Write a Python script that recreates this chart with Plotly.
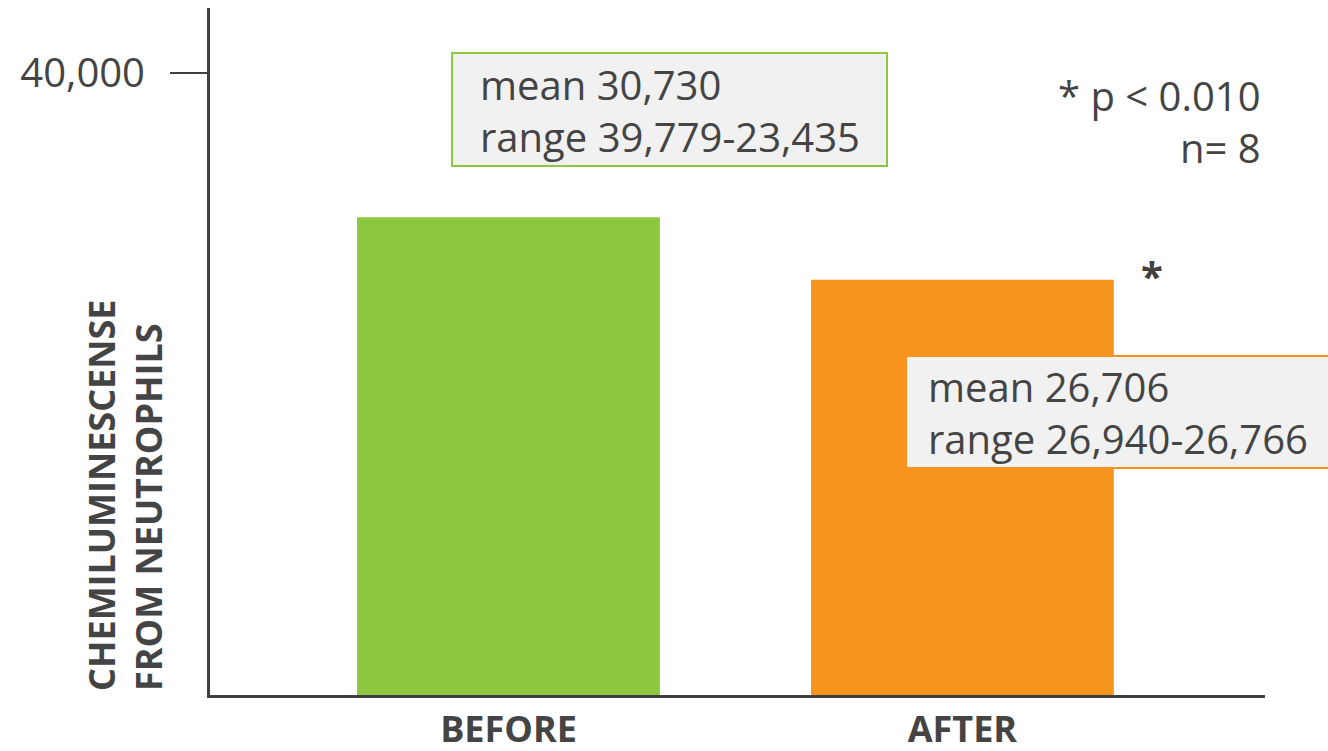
import plotly.graph_objects as go

# Neutrophil chemiluminescence before / after treatment
groups = ["BEFORE", "AFTER"]
means = [30730, 26706]
range_high = [39779, 26940]
range_low = [23435, 26766]
bar_colors = ["#8dc63f", "#f7941d"]
y_tick_values = [40000]
p_value = 0.010
n_subjects = 8

W, H = 1328, 751
MARGIN = dict(l=210, r=63, t=8, b=56)
TEXT = "#444444"
AXIS = "#404040"
FONT = "Open Sans"


def paper_x(px):
    return (px - MARGIN["l"]) / (W - MARGIN["l"] - MARGIN["r"])


def paper_y(py):
    return (H - MARGIN["b"] - py) / (H - MARGIN["t"] - MARGIN["b"])


fig = go.Figure(
    go.Bar(
        x=groups,
        y=means,
        width=0.667,
        marker=dict(color=bar_colors, line=dict(width=0)),
        hoverinfo="skip",
    )
)

fig.update_layout(
    width=W,
    height=H,
    margin=MARGIN,
    paper_bgcolor="white",
    plot_bgcolor="white",
    showlegend=False,
    font=dict(family=FONT, color=TEXT),
)

fig.update_xaxes(
    type="category",
    range=[-0.6575, 1.6665],
    automargin=False,
    showline=True,
    linecolor=AXIS,
    linewidth=3,
    showgrid=False,
    zeroline=False,
    ticks="",
    tickfont=dict(family=FONT, size=36, color=TEXT, weight="bold"),
    ticklabelstandoff=1,
)

fig.update_yaxes(
    range=[0, 44180],
    automargin=False,
    showline=True,
    linecolor=AXIS,
    linewidth=3,
    showgrid=False,
    zeroline=False,
    tickvals=y_tick_values,
    ticktext=[f"{v:,}" for v in y_tick_values],
    ticks="outside",
    ticklen=37,
    tickwidth=2,
    tickcolor=AXIS,
    tickfont=dict(family=FONT, size=40, color=TEXT),
    ticklabelstandoff=17,
)

# Callout boxes holding the group statistics
boxes = [
    dict(x0=452, x1=887, y0=166, y1=53, color=bar_colors[0], text_x=478),
    dict(x0=906, x1=1345, y0=468, y1=356, color=bar_colors[1], text_x=926),
]
shapes = []
annotations = []
for i, b in enumerate(boxes):
    shapes.append(
        dict(
            type="rect",
            xref="paper",
            yref="paper",
            x0=paper_x(b["x0"]),
            x1=paper_x(b["x1"]),
            y0=paper_y(b["y0"]),
            y1=paper_y(b["y1"]),
            fillcolor="#f1f1f1",
            line=dict(color=b["color"], width=2),
            layer="above",
        )
    )
    annotations.append(
        dict(
            text=f"mean {means[i]:,}<br>range {range_high[i]:,}-{range_low[i]:,}",
            xref="paper",
            yref="paper",
            x=paper_x(b["text_x"]),
            y=paper_y((b["y0"] + b["y1"]) / 2 + 1),
            xanchor="left",
            yanchor="middle",
            align="left",
            showarrow=False,
            font=dict(family=FONT, size=40, color=TEXT),
        )
    )

# Significance note
annotations.append(
    dict(
        text=f"* p < {p_value:.3f}<br>n= {n_subjects}",
        xref="paper",
        yref="paper",
        x=paper_x(1263),
        y=paper_y(121),
        xanchor="right",
        yanchor="middle",
        align="right",
        showarrow=False,
        font=dict(family=FONT, size=40, color=TEXT),
    )
)

# Significance marker next to the AFTER bar
annotations.append(
    dict(
        text="*",
        xref="paper",
        yref="paper",
        x=paper_x(1152),
        y=paper_y(275),
        xanchor="center",
        yanchor="middle",
        showarrow=False,
        font=dict(family=FONT, size=40, color=AXIS, weight="bold"),
    )
)

# Rotated y-axis title, two lines
annotations.append(
    dict(
        text="CHEMILUMINESCENSE<br>FROM NEUTROPHILS",
        xref="paper",
        yref="paper",
        x=paper_x(125),
        y=paper_y(693),
        xanchor="center",
        yanchor="bottom",
        textangle=-90,
        align="left",
        showarrow=False,
        font=dict(family=FONT, size=36, color=TEXT, weight="bold"),
    )
)

fig.update_layout(shapes=shapes, annotations=annotations)

fig.write_html("out.html")
